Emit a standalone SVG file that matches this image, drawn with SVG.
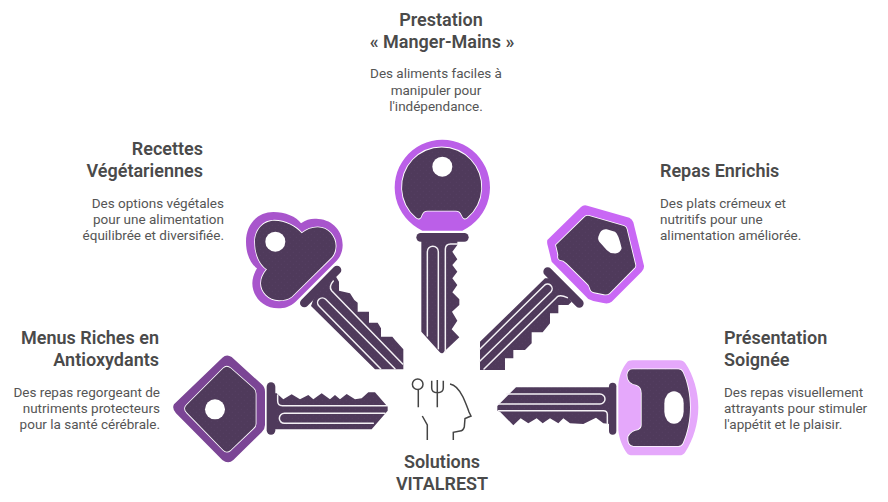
<svg xmlns="http://www.w3.org/2000/svg" width="888" height="502" viewBox="0 0 888 502">
<defs>
<pattern id="dots" width="18" height="18" patternUnits="userSpaceOnUse">
<rect width="18" height="18" fill="#4f3a5b"/>
<circle cx="4" cy="4" r="1.5" fill="#574065"/>
<circle cx="13" cy="13" r="1.5" fill="#574065"/>
</pattern>
</defs>
<style>
.dark{fill:url(#dots)}
.inner{fill:url(#dots);stroke:#fff;stroke-width:5;paint-order:stroke}
.hole{fill:#fff}
.sh{stroke:#4f3a5b;stroke-width:26;stroke-linecap:round;fill:none}
.gr{fill:none;stroke:#f4f1f5;stroke-width:4.5;stroke-linecap:round;stroke-linejoin:round}
.title{font-family:"Roboto","Liberation Sans",sans-serif;font-size:18px;font-weight:600;fill:#4a4a4a}
.desc{font-family:"Roboto","Liberation Sans",sans-serif;font-size:13.5px;fill:#555}
.icon{fill:none;stroke:#444;stroke-width:1.5}
.e{text-anchor:end}.m{text-anchor:middle}
</style>
<g id="connectors"></g>

<g id="key-top" transform="translate(380,130) scale(.33333)">
<path d="M127,302 A143,143 0 1 1 247,302 Z" fill="#bb5fe8"/>
<path d="M108,262 A119,119 0 1 1 262,262 Q252,272 245,255 Q240,242 228,242 H142 Q130,242 125,255 Q120,272 108,262 Z" class="inner"/>
<circle cx="187" cy="110" r="30" class="hole"/>
<line x1="122" y1="322" x2="253" y2="322" class="sh"/>
<path d="M124,330 V605 L178,665 Q187,675 192,665 L238,622 L215,598 L232,572 L216,545 L238,525 V508 L217,487 L232,465 L217,445 L232,425 L217,405 L232,388 L217,365 L232,345 V330 Z" class="dark"/>
<path d="M142,618 V365 A16.5,16.5 0 0 1 175,365 V656 M196,665 V358 Q196,342 212,342 H232" class="gr"/>
</g>

<g id="key-vegetarian" transform="translate(235,200) scale(.33333)">
<path d="M33,125 C33,70 70,36 115,36 C150,36 185,50 198,70 C215,58 230,55 250,57 C295,60 323,95 323,135 C323,155 315,172 305,182 L182,305 C165,320 148,325 130,325 C85,325 52,290 52,250 C52,235 58,218 66,205 C45,190 33,160 33,125 Z" fill="#a855cc"/>
<path d="M60,125 C60,90 85,62 118,62 C150,62 185,80 200,100 C215,88 230,82 248,82 C280,82 302,110 302,138 C302,150 297,165 290,172 L170,290 C160,298 145,301 132,301 C100,301 78,275 78,250 C78,235 85,220 96,208 C75,195 60,165 60,125 Z" class="inner"/>
<circle cx="121" cy="125" r="30" class="hole"/>
<line x1="208" y1="309" x2="306" y2="210" class="sh"/>
<path d="M228,318 L420,508 H505 V448 L480,420 L472,410 H438 V385 L428,368 H402 V335 H368 V308 L358,300 L345,280 L312,272 V245 L300,225 L240,285 Z" class="dark"/>
<path d="M437,506 L252,318 A13,13 0 0 1 272,298 L480,506 M503,492 L290,272 Q280,260 295,243" class="gr"/>
</g>

<g id="key-enriched" transform="translate(470,195) scale(.33333)">
<path d="M232,135 L333,36 Q340,29 352,32 L478,68 Q486,72 490,82 L522,212 Q523,222 515,230 L425,320 Q415,328 400,324 L370,318 L355,312 L245,200 L234,155 Q230,145 232,135 Z" fill="#c968f5"/>
<path d="M258,150 L342,68 Q348,60 358,63 L462,93 Q468,95 470,102 L496,210 Q497,216 492,220 L418,295 Q412,300 402,298 L372,292 Q362,290 360,280 Q358,270 348,262 L290,205 Q280,195 270,195 Q262,192 265,180 Q262,165 258,150 Z" class="inner"/>
<path d="M385,125 Q392,100 410,103 L435,110 Q445,115 455,160 Q450,178 430,175 Q420,175 410,165 L392,145 Q382,135 385,125 Z" class="hole"/>
<line x1="233" y1="230" x2="328" y2="325" class="sh"/>
<path d="M225,250 L30,440 V525 H105 V490 H130 V465 H165 L185,445 V412 H218 L240,385 V355 H265 V330 H295 L305,320 L245,250 Z" class="dark"/>
<path d="M30,462 L222,272 A13,13 0 0 1 243,290 L30,498 M42,522 L262,305 Q272,298 292,308" class="gr"/>
</g>

<g id="key-antioxidants" transform="translate(165,345) scale(.33333)">
<path d="M27,178 L172,38 Q185,26 200,36 L290,118 Q300,126 300,140 V240 Q300,252 290,262 L205,345 Q190,358 172,345 L33,205 Q20,190 27,178 Z" fill="#7b4595"/>
<path d="M65,180 L175,70 Q185,60 197,70 L265,130 Q272,136 272,146 V236 Q272,244 265,250 L197,315 Q185,325 175,315 L65,202 Q55,190 65,180 Z" class="inner"/>
<circle cx="150" cy="193" r="30" class="hole"/>
<line x1="318" y1="125" x2="318" y2="256" class="sh"/>
<path d="M330,145 H335 L355,163 L380,148 L405,163 L430,150 L445,163 L470,145 L495,163 L510,150 L525,163 L545,147 L570,163 L590,160 L610,142 H630 L668,185 V197 L620,253 H330 Z" class="dark"/>
<path d="M338,150 V168 Q338,182 352,182 H665 M660,205 H358 A15,15 0 0 0 358,235 H625" class="gr"/>
</g>

<g id="key-presentation" transform="translate(490,350) scale(.33333)">
<path d="M385,105 C387,78 398,52 410,38 Q415,31 428,31 H568 Q580,31 586,40 C610,75 625,125 625,172 C625,220 610,270 586,306 Q580,316 568,316 H428 Q415,316 410,308 C398,292 387,265 385,240 Z" fill="#e5a8fb"/>
<path d="M412,75 Q414,58 428,58 H565 Q574,58 578,66 C592,95 600,135 600,172 C600,210 592,250 578,280 Q574,288 565,288 H430 Q412,285 415,260 Q425,242 445,240 Q455,235 455,225 V130 Q455,110 440,105 Q412,100 412,75 Z" class="inner"/>
<rect x="523" y="124" width="58" height="97" rx="29" ry="36" class="hole"/>
<line x1="368" y1="109" x2="368" y2="243" class="sh" style="stroke-width:22"/>
<path d="M360,112 H78 L22,168 V182 L30,185 L70,226 L92,205 L115,220 L140,205 L158,220 L180,205 L205,220 L220,205 L240,220 L280,222 L318,203 L340,220 L360,222 Z" class="dark"/>
<path d="M50,132 H330 A15,15 0 0 1 330,162 H25 M25,182 H340 Q352,182 352,194 V222" class="gr"/>
</g>

<g id="icon-center">
<circle cx="417.7" cy="384.3" r="5.3" class="icon"/>
<path d="M418.3,390 V407.3 M431.7,380.7 V388 Q431.7,392.7 437.3,392.7 Q443.3,392.7 443.3,388 V380.7 M437.3,380 V407.3" class="icon"/>
<path d="M450,384 Q457,385 463,397 Q467,406 469,412 L471,416 L465,418.500 L464.300,427 Q463,431 460,431 L453.300,432.300 V440" class="icon"/>
<path d="M422.300,416 L427.300,425 V440" class="icon"/>
<text x="442" y="468" class="title m">Solutions</text>
<text x="442" y="490" class="title m">VITALREST</text>
</g>

<g id="label-top">
<text x="441" y="26" class="title m">Prestation</text>
<text x="442" y="48" class="title m">« Manger-Mains »</text>
<text x="436" y="78" class="desc m">Des aliments faciles à</text>
<text x="436" y="95" class="desc m">manipuler pour</text>
<text x="436" y="111" class="desc m">l'indépendance.</text>
</g>
<g id="label-vegetarian">
<text x="203" y="155" class="title e">Recettes</text>
<text x="203" y="177" class="title e">Végétariennes</text>
<text x="224" y="208" class="desc e">Des options végétales</text>
<text x="224" y="224" class="desc e">pour une alimentation</text>
<text x="224" y="240" class="desc e">équilibrée et diversifiée.</text>
</g>
<g id="label-enriched">
<text x="660" y="177" class="title">Repas Enrichis</text>
<text x="660" y="208" class="desc">Des plats crémeux et</text>
<text x="660" y="224" class="desc">nutritifs pour une</text>
<text x="660" y="240" class="desc">alimentation améliorée.</text>
</g>
<g id="label-antioxidants">
<text x="159" y="344" class="title e">Menus Riches en</text>
<text x="159" y="366" class="title e">Antioxydants</text>
<text x="160" y="397" class="desc e">Des repas regorgeant de</text>
<text x="160" y="413" class="desc e">nutriments protecteurs</text>
<text x="160" y="429" class="desc e">pour la santé cérébrale.</text>
</g>
<g id="label-presentation">
<text x="724" y="344" class="title">Présentation</text>
<text x="724" y="366" class="title">Soignée</text>
<text x="724" y="397" class="desc">Des repas visuellement</text>
<text x="724" y="413" class="desc">attrayants pour stimuler</text>
<text x="724" y="429" class="desc">l'appétit et le plaisir.</text>
</g>
</svg>
